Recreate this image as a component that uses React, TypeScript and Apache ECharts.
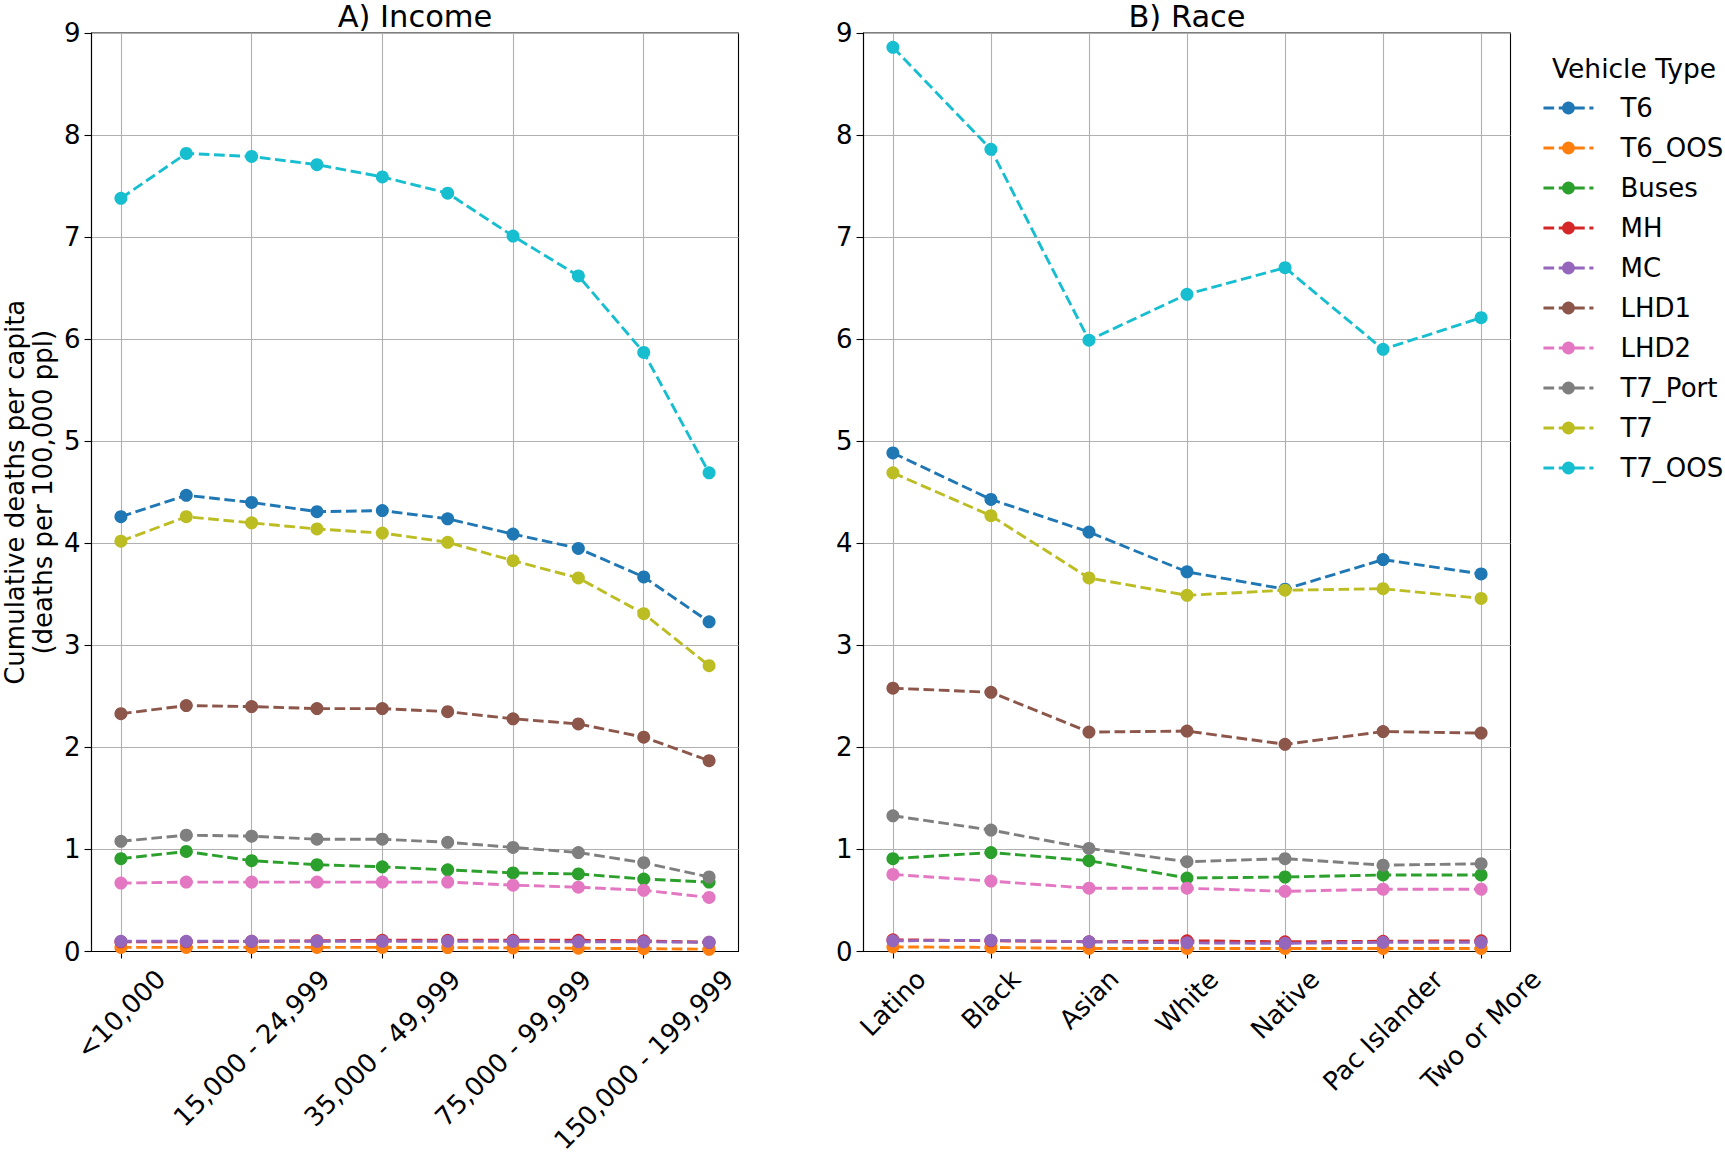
import React, { useEffect, useRef } from 'react';
import * as echarts from 'echarts';

const FONT = 'DejaVu Sans';

const vehicleTypes = ['T6', 'T6_OOS', 'Buses', 'MH', 'MC', 'LHD1', 'LHD2', 'T7_Port', 'T7', 'T7_OOS'];
const colors = ['#1f77b4', '#ff7f0e', '#2ca02c', '#d62728', '#9467bd', '#8c564b', '#e377c2', '#7f7f7f', '#bcbd22', '#17becf'];

const incomeCats = ['<10,000', '10,000 - 14,999', '15,000 - 24,999', '25,000 - 34,999', '35,000 - 49,999', '50,000 - 74,999', '75,000 - 99,999', '100,000 - 149,999', '150,000 - 199,999', '>200,000'];
const raceCats = ['Latino', 'Black', 'Asian', 'White', 'Native', 'Pac Islander', 'Two or More'];
const incomeTickIdx = [0, 2, 4, 6, 8];
const raceTickIdx = [0, 1, 2, 3, 4, 5, 6];

// Income panel values
const incT6 = [4.26, 4.47, 4.40, 4.31, 4.32, 4.24, 4.09, 3.95, 3.67, 3.23];
const incT6OOS = [0.04, 0.04, 0.04, 0.04, 0.04, 0.038, 0.035, 0.032, 0.028, 0.022];
const incBuses = [0.91, 0.98, 0.89, 0.85, 0.83, 0.80, 0.77, 0.76, 0.71, 0.68];
const incMH = [0.095, 0.095, 0.10, 0.105, 0.11, 0.11, 0.11, 0.11, 0.105, 0.09];
const incMC = [0.10, 0.10, 0.10, 0.10, 0.10, 0.10, 0.10, 0.095, 0.095, 0.09];
const incLHD1 = [2.33, 2.41, 2.40, 2.38, 2.38, 2.35, 2.28, 2.23, 2.10, 1.87];
const incLHD2 = [0.67, 0.68, 0.68, 0.68, 0.68, 0.68, 0.65, 0.63, 0.60, 0.53];
const incT7Port = [1.08, 1.14, 1.13, 1.10, 1.10, 1.07, 1.02, 0.97, 0.87, 0.73];
const incT7 = [4.02, 4.26, 4.20, 4.14, 4.10, 4.01, 3.83, 3.66, 3.31, 2.80];
const incT7OOS = [7.38, 7.82, 7.79, 7.71, 7.59, 7.43, 7.01, 6.62, 5.87, 4.69];

// Race panel values
const raceT6 = [4.885, 4.43, 4.11, 3.72, 3.55, 3.84, 3.70];
const raceT6OOS = [0.045, 0.04, 0.03, 0.03, 0.03, 0.03, 0.03];
const raceBuses = [0.91, 0.97, 0.89, 0.72, 0.73, 0.75, 0.75];
const raceMH = [0.115, 0.105, 0.095, 0.105, 0.095, 0.10, 0.105];
const raceMC = [0.105, 0.11, 0.095, 0.085, 0.08, 0.09, 0.09];
const raceLHD1 = [2.58, 2.54, 2.15, 2.16, 2.03, 2.155, 2.14];
const raceLHD2 = [0.755, 0.69, 0.62, 0.62, 0.59, 0.61, 0.61];
const raceT7Port = [1.33, 1.19, 1.01, 0.88, 0.91, 0.846, 0.86];
const raceT7 = [4.69, 4.27, 3.66, 3.49, 3.54, 3.555, 3.46];
const raceT7OOS = [8.86, 7.86, 5.99, 6.44, 6.70, 5.90, 6.21];

const incomeSeries = [incT6, incT6OOS, incBuses, incMH, incMC, incLHD1, incLHD2, incT7Port, incT7, incT7OOS];
const raceSeries = [raceT6, raceT6OOS, raceBuses, raceMH, raceMC, raceLHD1, raceLHD2, raceT7Port, raceT7, raceT7OOS];

const yTitle = 'Cumulative deaths per capita\n(deaths per 100,000 ppl)';

const TICK_FS = 26;

function measure(text: string, size: number): number {
  const ctx = document.createElement('canvas').getContext('2d');
  if (!ctx) return text.length * size * 0.6;
  ctx.font = `${size}px "${FONT}"`;
  return ctx.measureText(text).width;
}

function richFor(cats: string[]) {
  const rich: Record<string, any> = {};
  cats.forEach((c, i) => {
    const w = measure(c, TICK_FS);
    const p = Math.round(0.5 * (w + TICK_FS));
    rich['l' + i] = { fontSize: TICK_FS, fontFamily: FONT, color: '#000', padding: [p, p, 0, 0] };
  });
  return rich;
}

const GRID_TOP = 33;
const GRID_H = 918.5;
const GRID_W = 647;

export default function App() {
  const ref = useRef<HTMLDivElement>(null);
  useEffect(() => {
    if (!ref.current) return;
    const chart = echarts.init(ref.current, null, { renderer: 'svg' });

    const axisLineStyle = { color: '#000', width: 1.1 };
    const splitStyle = { color: '#b0b0b0', width: 1.1 };

    const makeX = (gridIndex: number, cats: string[], ticks: number[], margin: number) => ({
      type: 'value',
      gridIndex,
      min: -(cats.length - 1) * 0.05,
      max: (cats.length - 1) * 1.05,
      axisLine: { show: true, onZero: false, lineStyle: axisLineStyle },
      axisTick: { show: true, customValues: ticks, length: 7, lineStyle: axisLineStyle },
      axisLabel: {
        customValues: ticks,
        rotate: 45,
        align: 'center',
        verticalAlign: 'middle',
        margin,
        formatter: (v: number) => {
          const i = Math.round(v);
          return `{l${i}|${cats[i]}}`;
        },
        rich: richFor(cats),
      },
      splitLine: { show: true, lineStyle: splitStyle },
    });

    const makeY = (gridIndex: number, withName: boolean) => ({
      type: 'value',
      gridIndex,
      min: 0,
      max: 9,
      interval: 1,
      axisLine: { show: true, onZero: false, lineStyle: axisLineStyle },
      axisTick: { show: true, length: 7, lineStyle: axisLineStyle },
      axisLabel: { fontSize: TICK_FS, fontFamily: FONT, color: '#000', margin: 11 },
      splitLine: { show: true, lineStyle: splitStyle },
      ...(withName
        ? {
            name: yTitle,
            nameLocation: 'middle',
            nameRotate: 90,
            nameGap: 35,
            nameTextStyle: { fontSize: 26, fontFamily: FONT, color: '#000', lineHeight: 28 },
          }
        : {}),
    });

    const mkSeries = (vals: number[][], axisIdx: number) =>
      vals.map((arr, k) => ({
        type: 'line',
        name: vehicleTypes[k],
        xAxisIndex: axisIdx,
        yAxisIndex: axisIdx,
        data: arr.map((v, i) => [i, v]),
        symbol: 'circle',
        symbolSize: 13,
        itemStyle: { color: colors[k], borderWidth: 0 },
        lineStyle: { color: colors[k], width: 2.9, type: [10.7, 4.6] },
        emphasis: { disabled: true },
        z: 2 + k * 0.01,
      }));

    const option: any = {
      animation: false,
      textStyle: { fontFamily: FONT },
      grid: [
        { left: 91.5, top: GRID_TOP, width: GRID_W, height: GRID_H, show: true, borderColor: '#000', borderWidth: 1.1, outerBoundsMode: 'none' },
        { left: 863.5, top: GRID_TOP, width: GRID_W, height: GRID_H, show: true, borderColor: '#000', borderWidth: 1.1, outerBoundsMode: 'none' },
      ],
      xAxis: [makeX(0, incomeCats, incomeTickIdx, 14), makeX(1, raceCats, raceTickIdx, 14)],
      yAxis: [makeY(0, true), makeY(1, false)],
      legend: {
        orient: 'vertical',
        left: 1537,
        top: 90,
        itemWidth: 50,
        itemHeight: 16,
        itemGap: 14,
        data: vehicleTypes,
        lineStyle: { width: 2.9 },
        textStyle: { fontSize: 26, fontFamily: FONT, color: '#000', padding: [0, 0, 0, 22] },
      },
      graphic: [
        { type: 'text', x: 91.5 + GRID_W / 2, y: 16, style: { text: 'A) Income', font: `30.5px "${FONT}"`, fill: '#000', textAlign: 'center', textVerticalAlign: 'middle' } },
        { type: 'text', x: 863.5 + GRID_W / 2, y: 16, style: { text: 'B) Race', font: `30.5px "${FONT}"`, fill: '#000', textAlign: 'center', textVerticalAlign: 'middle' } },
        { type: 'text', x: 1634, y: 68, style: { text: 'Vehicle Type', font: `26.5px "${FONT}"`, fill: '#000', textAlign: 'center', textVerticalAlign: 'middle' } },
      ],
      series: [...mkSeries(incomeSeries, 0), ...mkSeries(raceSeries, 1)],
    };
    chart.setOption(option);
    return () => chart.dispose();
  }, []);
  return <div ref={ref} style={{ position: 'absolute', left: 0, top: 0, width: 1725, height: 1153 }} />;
}
